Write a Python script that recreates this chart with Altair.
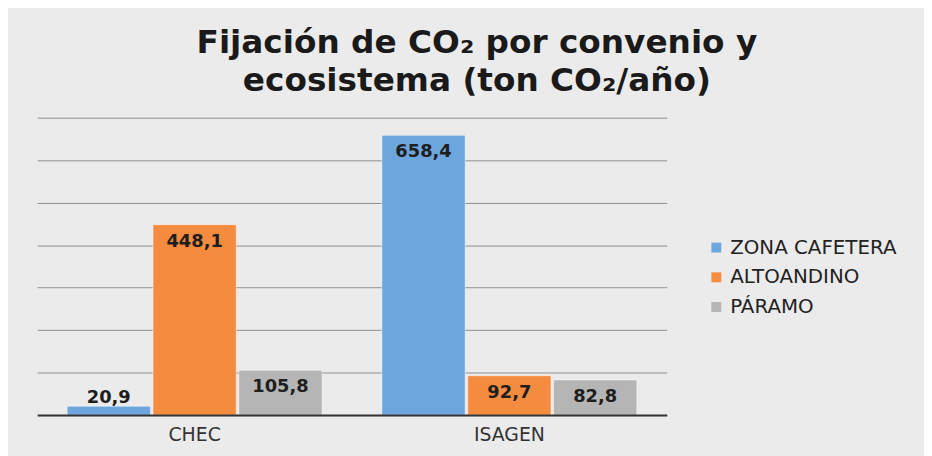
import altair as alt
import pandas as pd

convenios = ["CHEC", "ISAGEN"]
ecosistemas = ["ZONA CAFETERA", "ALTOANDINO", "PÁRAMO"]
zona_cafetera = [20.9, 658.4]
altoandino = [448.1, 92.7]
paramo = [105.8, 82.8]
colores = ["#6ca6dd", "#f58b3f", "#b5b5b5"]
title_lines = ["Fijación de CO₂ por convenio y", "ecosistema (ton CO₂/año)"]

rows = []
for serie, vals in zip(ecosistemas, [zona_cafetera, altoandino, paramo]):
    for conv, v in zip(convenios, vals):
        rows.append({"convenio": conv, "ecosistema": serie, "valor": v})
df = pd.DataFrame(rows)

FONT = "DejaVu Sans"

x_enc = alt.X(
    "convenio:N",
    sort=convenios,
    scale=alt.Scale(paddingInner=0.19, paddingOuter=0.095),
    axis=alt.Axis(
        title=None, labelAngle=0, ticks=False, grid=False,
        domainColor="#333333", domainWidth=2, zindex=1,
        labelFont=FONT, labelFontSize=19, labelColor="#333333", labelPadding=11,
    ),
)
xoff_enc = alt.XOffset("ecosistema:N", sort=ecosistemas, scale=alt.Scale(paddingInner=0.03))
y_enc = alt.Y(
    "valor:Q",
    scale=alt.Scale(domain=[0, 700], nice=False),
    axis=alt.Axis(
        title=None, labels=False, ticks=False, domain=False,
        values=[0, 100, 200, 300, 400, 500, 600, 700],
        gridColor="#8f8f8f", gridWidth=1,
    ),
)

base = alt.Chart(df).transform_calculate(
    etiqueta="replace(format(datum.valor, '.1f'), '.', ',')"
)

bars = base.mark_bar(stroke="#ffffff", strokeWidth=1, strokeOpacity=0.5).encode(
    x=x_enc,
    xOffset=xoff_enc,
    y=y_enc,
    color=alt.Color(
        "ecosistema:N",
        sort=ecosistemas,
        scale=alt.Scale(domain=ecosistemas, range=colores),
        legend=alt.Legend(
            title=None, orient="none", legendX=675, legendY=121,
            symbolType="square", symbolSize=100, symbolStrokeWidth=0,
            labelFont=FONT, labelFontSize=20, labelColor="#222222",
            labelOffset=4, rowPadding=10, padding=0, labelLimit=0,
        ),
    ),
)

text_props = dict(font=FONT, fontSize=18, fontWeight="bold", color="#1e1e1e", align="center")

inside = base.transform_filter("datum.valor >= 50").mark_text(
    baseline="top", dy=8, **text_props
).encode(
    x=alt.X("convenio:N", sort=convenios),
    xOffset=alt.XOffset("ecosistema:N", sort=ecosistemas),
    y=alt.Y("valor:Q"),
    text="etiqueta:N",
)

outside = base.transform_filter("datum.valor < 50").mark_text(
    baseline="alphabetic", dy=-3, **text_props
).encode(
    x=alt.X("convenio:N", sort=convenios),
    xOffset=alt.XOffset("ecosistema:N", sort=ecosistemas),
    y=alt.Y("valor:Q"),
    text="etiqueta:N",
)

chart = alt.layer(bars, inside, outside).properties(
    width=635,
    height=300,
    autosize=alt.AutoSizeParams(type="none"),
    padding={"left": 29.5, "top": 108.7, "right": 259.5, "bottom": 39.3},
    background="#ebebeb",
    title=alt.TitleParams(
        text=title_lines, font=FONT, fontSize=33, fontWeight="bold",
        color="#1a1a1a", anchor="middle", dx=126, offset=20, lineHeight=38,
    ),
).configure_view(stroke=None)

chart.save("out.html", embed_options={"renderer": "svg", "actions": False})
